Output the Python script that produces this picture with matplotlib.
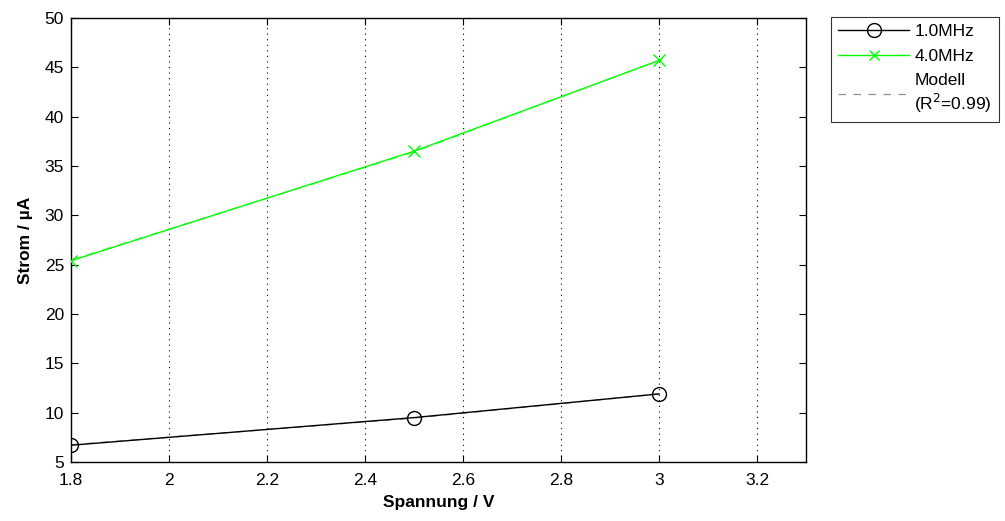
import matplotlib
matplotlib.use("Agg")
import matplotlib.pyplot as plt
from matplotlib.lines import Line2D

plt.rcParams['font.family'] = ['Liberation Sans', 'DejaVu Sans']

voltage = [1.8, 2.5, 3.0]
current_1mhz = [6.7, 9.5, 11.9]
current_4mhz = [25.4, 36.5, 45.7]
model_1mhz = [6.75, 9.45, 11.9]
model_4mhz = [25.5, 36.4, 45.7]

labels = ['1.0MHz', '4.0MHz', 'Modell\n(R$^2$=0.99)']
xticks = [1.8, 2.0, 2.2, 2.4, 2.6, 2.8, 3.0, 3.2]
xticklabels = ['1.8', '2', '2.2', '2.4', '2.6', '2.8', '3', '3.2']
yticks = [5, 10, 15, 20, 25, 30, 35, 40, 45, 50]

fig = plt.figure(figsize=(10.05, 5.21), dpi=100)
ax = fig.add_axes([71/1005, 1 - 462/521, (806-71)/1005, (462-18)/521])

fs = 12.5
ax.plot(voltage, model_1mhz, color='#909090', linestyle=(0, (6, 6)), linewidth=0.9, zorder=2)
ax.plot(voltage, model_4mhz, color='#90ee90', linestyle=(0, (6, 6)), linewidth=1.0, zorder=2)
ax.plot(voltage, current_1mhz, color='black', marker='o', markersize=10, markerfacecolor='none',
        markeredgewidth=1.0, linewidth=1.0, zorder=3)
ax.plot(voltage, current_4mhz, color='#00ff00', marker='x', markersize=8,
        markeredgewidth=1.0, linewidth=1.0, zorder=3)

ax.set_xlim(1.8, 3.3)
ax.set_ylim(5, 50)
ax.set_xticks(xticks)
ax.set_xticklabels(xticklabels)
ax.set_yticks(yticks)
ax.tick_params(direction='in', top=True, right=True, labelsize=fs, length=5, width=0.8)
ax.tick_params(axis='x', pad=8)
ax.tick_params(axis='y', pad=5)
ax.xaxis.grid(True, linestyle=(0, (1, 4)), color='black', linewidth=0.8)
for s in ax.spines.values():
    s.set_linewidth(1.0)

ax.set_xlabel('Spannung / V', fontsize=fs, fontweight='bold', labelpad=5)
ax.set_ylabel('Strom / µA', fontsize=fs, fontweight='bold', labelpad=8)

handles = [
    Line2D([], [], color='black', marker='o', markersize=10, markerfacecolor='none', linewidth=1.0),
    Line2D([], [], color='#00ff00', marker='x', markersize=7, linewidth=1.0),
    Line2D([], [], color='#909090', linestyle=(0, (6, 6)), linewidth=0.9),
]
leg = fig.legend(handles, labels, loc='upper left', bbox_to_anchor=(831/1005, 1 - 17/521),
                 fontsize=fs, frameon=True, fancybox=False, edgecolor='black',
                 handlelength=4.1, handletextpad=0.3, borderpad=0.4, labelspacing=0.55,
                 borderaxespad=0)
leg.get_frame().set_linewidth(0.8)

fig.savefig('out.png', dpi=100)
